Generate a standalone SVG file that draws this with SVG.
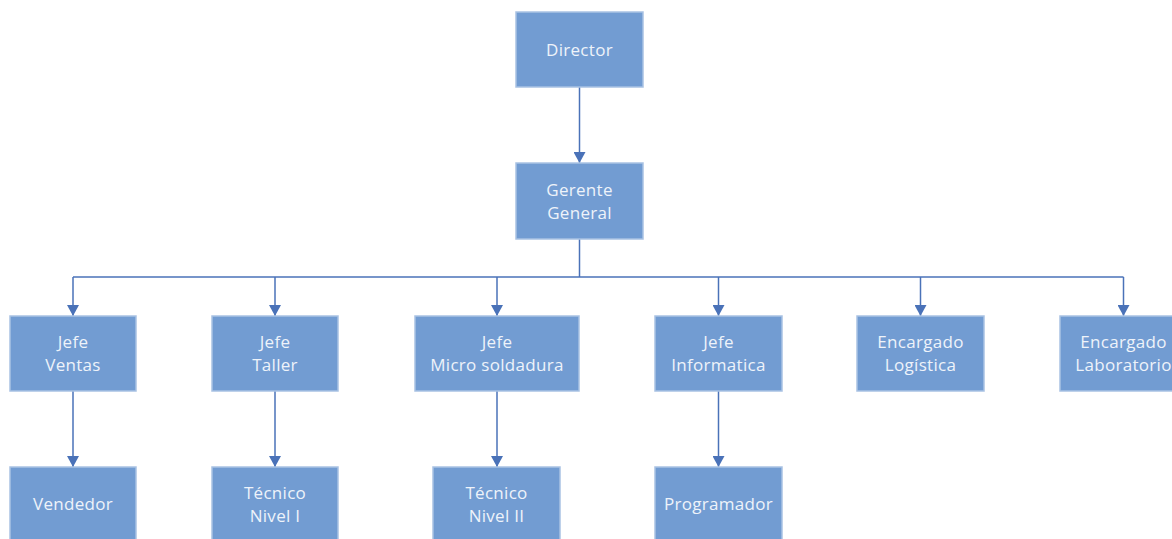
<svg xmlns="http://www.w3.org/2000/svg" width="1172" height="539" viewBox="0 0 1172 539">
  <defs>
    <style>
      .box { fill: #729cd2; stroke: #a9c2e3; stroke-width: 1.5; }
      .lbl { font-family: "Open Sans", "Noto Sans", sans-serif; font-size: 17px; fill: #eef3fa; text-anchor: middle; letter-spacing: 0.3px; }
      .wire { fill: none; stroke: #4a72b8; stroke-width: 1.5; }
    </style>
    <marker id="arrow" markerUnits="userSpaceOnUse" markerWidth="12" markerHeight="11" refX="6" refY="11" orient="0" viewBox="0 0 12 11">
      <path d="M0,0 L12,0 L6,11 Z" fill="#4a72b8"/>
    </marker>
  </defs>
  <rect width="1172" height="539" fill="#ffffff"/>

  <!-- connectors -->
  <g id="connectors">
    <line class="wire" x1="579.5" y1="87" x2="579.5" y2="163" marker-end="url(#arrow)"/>
    <line class="wire" x1="579.5" y1="239" x2="579.5" y2="277"/>
    <line class="wire" x1="73" y1="277" x2="1123.5" y2="277"/>
    <line class="wire" x1="73" y1="277" x2="73" y2="316" marker-end="url(#arrow)"/>
    <line class="wire" x1="275" y1="277" x2="275" y2="316" marker-end="url(#arrow)"/>
    <line class="wire" x1="497" y1="277" x2="497" y2="316" marker-end="url(#arrow)"/>
    <line class="wire" x1="718.5" y1="277" x2="718.5" y2="316" marker-end="url(#arrow)"/>
    <line class="wire" x1="920.5" y1="277" x2="920.5" y2="316" marker-end="url(#arrow)"/>
    <line class="wire" x1="1123.5" y1="277" x2="1123.5" y2="316" marker-end="url(#arrow)"/>
    <line class="wire" x1="73" y1="391" x2="73" y2="467" marker-end="url(#arrow)"/>
    <line class="wire" x1="275" y1="391" x2="275" y2="467" marker-end="url(#arrow)"/>
    <line class="wire" x1="497" y1="391" x2="497" y2="467" marker-end="url(#arrow)"/>
    <line class="wire" x1="718.5" y1="391" x2="718.5" y2="467" marker-end="url(#arrow)"/>
  </g>

  <!-- top level -->
  <g id="director">
    <rect class="box" x="516" y="12" width="127" height="75"/>
    <text class="lbl" x="579.5" y="55.5">Director</text>
  </g>
  <g id="gerente-general">
    <rect class="box" x="516" y="163" width="127" height="76"/>
    <text class="lbl" x="579.5" y="195.5">Gerente</text>
    <text class="lbl" x="579.5" y="218.5">General</text>
  </g>

  <!-- department heads -->
  <g id="jefe-ventas">
    <rect class="box" x="10" y="316" width="126" height="75"/>
    <text class="lbl" x="73" y="348">Jefe</text>
    <text class="lbl" x="73" y="371">Ventas</text>
  </g>
  <g id="jefe-taller">
    <rect class="box" x="212" y="316" width="126" height="75"/>
    <text class="lbl" x="275" y="348">Jefe</text>
    <text class="lbl" x="275" y="371">Taller</text>
  </g>
  <g id="jefe-micro-soldadura">
    <rect class="box" x="415" y="316" width="164" height="75"/>
    <text class="lbl" x="497" y="348">Jefe</text>
    <text class="lbl" x="497" y="371">Micro soldadura</text>
  </g>
  <g id="jefe-informatica">
    <rect class="box" x="655" y="316" width="127" height="75"/>
    <text class="lbl" x="718.5" y="348">Jefe</text>
    <text class="lbl" x="718.5" y="371">Informatica</text>
  </g>
  <g id="encargado-logistica">
    <rect class="box" x="857" y="316" width="127" height="75"/>
    <text class="lbl" x="920.5" y="348">Encargado</text>
    <text class="lbl" x="920.5" y="371">Logística</text>
  </g>
  <g id="encargado-laboratorio">
    <rect class="box" x="1060" y="316" width="127" height="75"/>
    <text class="lbl" x="1123.5" y="348">Encargado</text>
    <text class="lbl" x="1123.5" y="371">Laboratorio</text>
  </g>

  <!-- staff -->
  <g id="vendedor">
    <rect class="box" x="10" y="467" width="126" height="75"/>
    <text class="lbl" x="73" y="510">Vendedor</text>
  </g>
  <g id="tecnico-nivel-1">
    <rect class="box" x="212" y="467" width="126" height="75"/>
    <text class="lbl" x="275" y="499">Técnico</text>
    <text class="lbl" x="275" y="522">Nivel I</text>
  </g>
  <g id="tecnico-nivel-2">
    <rect class="box" x="433" y="467" width="127" height="75"/>
    <text class="lbl" x="496.5" y="499">Técnico</text>
    <text class="lbl" x="496.5" y="522">Nivel II</text>
  </g>
  <g id="programador">
    <rect class="box" x="655" y="467" width="127" height="75"/>
    <text class="lbl" x="718.5" y="510">Programador</text>
  </g>
</svg>
